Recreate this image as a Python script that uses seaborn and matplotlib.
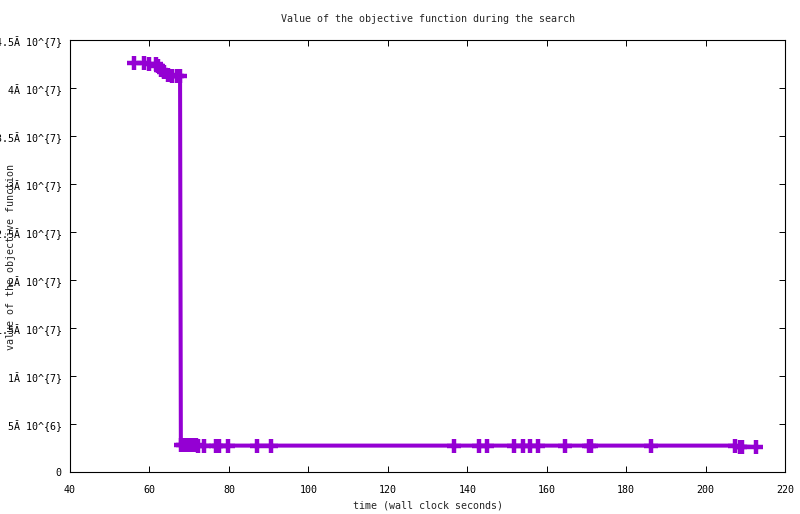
import pandas as pd
import seaborn as sns
import matplotlib.pyplot as plt

# search trace: wall clock time (s) and objective value (x 1e6)
times = [56.2, 58.7, 60.0, 61.6, 62.2, 62.9, 63.7, 64.6, 65.6, 66.9, 67.7,
         67.9, 68.5, 69.2, 70.0, 70.8, 71.6, 72.2, 73.7, 76.8, 77.6, 79.8,
         87.0, 90.5, 136.7, 143.0, 144.9, 151.8, 154.0, 155.8, 157.7, 164.6,
         170.5, 171.1, 186.2, 207.4, 208.6, 209.2, 212.7]
values_m = [42.6, 42.6, 42.5, 42.5, 42.3, 41.9, 41.7, 41.4, 41.3, 41.3, 41.3,
            2.8, 2.8, 2.8, 2.8, 2.8, 2.8, 2.75, 2.75, 2.75, 2.75, 2.75,
            2.75, 2.75, 2.75, 2.75, 2.75, 2.75, 2.75, 2.75, 2.75, 2.75,
            2.75, 2.75, 2.75, 2.75, 2.65, 2.65, 2.6]

y_ticks = [0, 5e6, 1e7, 1.5e7, 2e7, 2.5e7, 3e7, 3.5e7, 4e7, 4.5e7]
y_tick_labels = ["0", "5Ă 10^{6}", "1Ă 10^{7}", "1.5Ă 10^{7}", "2Ă 10^{7}",
                 "2.5Ă 10^{7}", "3Ă 10^{7}", "3.5Ă 10^{7}", "4Ă 10^{7}",
                 "4.5Ă 10^{7}"]
x_ticks = [40, 60, 80, 100, 120, 140, 160, 180, 200, 220]

df = pd.DataFrame({'time': times, 'value': [v * 1e6 for v in values_m]})

sns.set_style('ticks')
plt.rcParams['font.family'] = ['DejaVu Sans Mono']
plt.rcParams['font.size'] = 7.2

fig = plt.figure(figsize=(8, 5.14), dpi=100)
ax = fig.add_axes([0.0875, 0.0817, 0.894, 0.8405])

color = '#9400D3'
sns.lineplot(x='time', y='value', data=df, ax=ax, sort=False, estimator=None,
             color=color, linewidth=2.9, marker='+', markersize=10,
             markeredgewidth=3.2, markeredgecolor=color)

ax.set_xlim(40, 220)
ax.set_ylim(0, 4.5e7)
ax.set_xticks(x_ticks)
ax.set_xticklabels([str(t) for t in x_ticks])
ax.set_yticks(y_ticks)
ax.set_yticklabels(y_tick_labels)
ax.tick_params(direction='in', length=4.5, width=0.7, top=True, right=True,
               labelsize=7.2, colors='black')
ax.tick_params(axis='x', pad=9)
ax.tick_params(axis='y', pad=6)
for s in ax.spines.values():
    s.set_linewidth(0.8)
    s.set_color('black')

ax.set_title('Value of the objective function during the search', fontsize=7.2, pad=13)
ax.set_xlabel('time (wall clock seconds)', fontsize=7.2, labelpad=4)
ax.set_ylabel('')
fig.text(0.0135, 0.5, 'value of the objective function', rotation=90,
         ha='center', va='center', fontsize=7.2)

fig.savefig('out.png', dpi=100)
